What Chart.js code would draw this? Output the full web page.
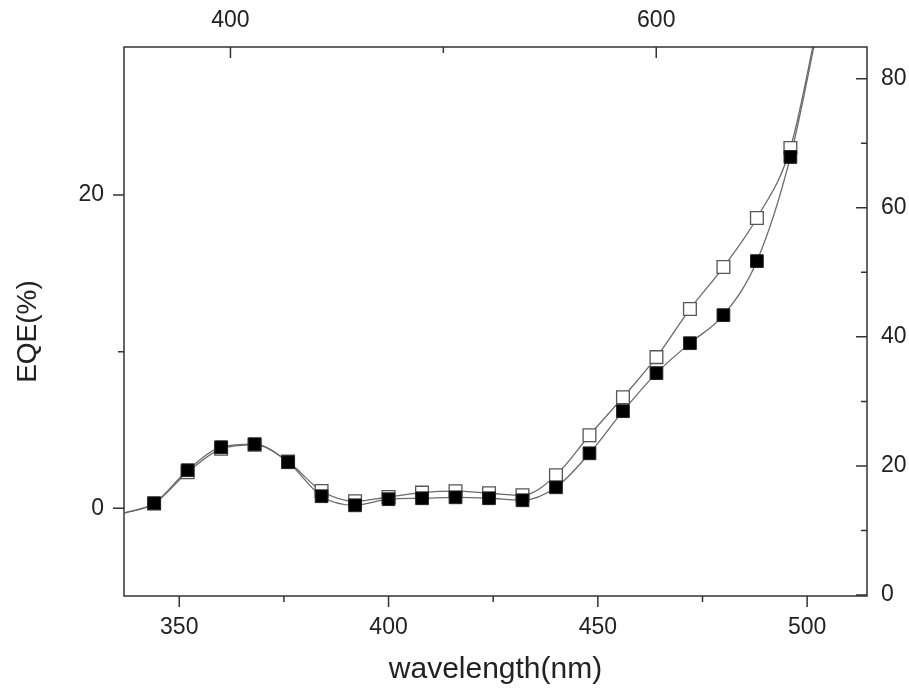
<!DOCTYPE html>
<html>
<head>
<meta charset="utf-8">
<title>EQE vs wavelength</title>
<script src="https://cdn.jsdelivr.net/npm/chart.js@4.4.1/dist/chart.umd.min.js"></script>
<style>
    html, body { margin: 0; padding: 0; background: #fff; }
    #wrap { width: 909px; height: 688px; }
</style>
</head>
<body>
<div id="wrap"><canvas id="eqeChart" width="909" height="688"></canvas></div>
<script>
/* ---------------- DATA ---------------- */
const wavelengths = [344, 352, 360, 368, 376, 384, 392, 400, 408, 416, 424, 432, 440, 448, 456, 464, 472, 480, 488, 496];
const eqeFilled   = [0.32, 2.43, 3.90, 4.09, 2.94, 0.77, 0.19, 0.58, 0.64, 0.70, 0.64, 0.51, 1.34, 3.51, 6.20, 8.63, 10.54, 12.33, 15.78, 22.43];
const eqeOpen     = [0.30, 2.30, 3.80, 4.05, 2.98, 1.10, 0.45, 0.72, 1.00, 1.09, 0.96, 0.83, 2.11, 4.66, 7.09, 9.65, 12.72, 15.40, 18.53, 23.00];

// where the fitted curves leave the frame (no markers there)
const curveEndX      = [337, 503];
const curveEndFilled = [-0.3, 31.3];
const curveEndOpen   = [-0.3, 31.6];

const bottomTicks = [350, 400, 450, 500];
const bottomMinor = [375, 425, 475];
const topTicks    = [400, 600];
const topMinor    = [500];
const leftTicks   = [0, 20];
const leftMinor   = [10];
const rightTicks  = [0, 20, 40, 60, 80];
const rightMinor  = [10, 30, 50, 70];

const yTitle = 'EQE(%)';

/* ---------------- HELPERS ---------------- */
const toPoints = (xs, ys) => xs.map((x, i) => ({ x: x, y: ys[i] }));

const curve = (ys, ends) => [
    { x: curveEndX[0], y: ends[0] },
    ...toPoints(wavelengths, ys),
    { x: curveEndX[1], y: ends[1] }
];

const fixTicks = (values) => (scale) => {
    scale.ticks = values.map(v => ({ value: v }));
};

const fontFamily = "'Liberation Sans', Arial, sans-serif";
const tickFont = { family: fontFamily, size: 23 };
const textColor = '#222';
const noGrid = { display: false, drawTicks: false };

/* ---------------- FRAME + TICK MARKS + Y TITLE ---------------- */
const frameTicks = {
    id: 'frameTicks',
    afterDatasetsDraw(chart) {
        const { ctx, chartArea: a, scales } = chart;
        ctx.save();
        ctx.strokeStyle = '#333';
        ctx.lineWidth = 1.5;
        ctx.strokeRect(a.left, a.top, a.right - a.left, a.bottom - a.top);

        const major = 11, minor = 6;
        ctx.beginPath();
        // bottom: outward
        bottomTicks.forEach(v => { const p = scales.x.getPixelForValue(v); ctx.moveTo(p, a.bottom); ctx.lineTo(p, a.bottom + major); });
        bottomMinor.forEach(v => { const p = scales.x.getPixelForValue(v); ctx.moveTo(p, a.bottom); ctx.lineTo(p, a.bottom + minor); });
        // top: inward
        topTicks.forEach(v => { const p = scales.x2.getPixelForValue(v); ctx.moveTo(p, a.top); ctx.lineTo(p, a.top + major); });
        topMinor.forEach(v => { const p = scales.x2.getPixelForValue(v); ctx.moveTo(p, a.top); ctx.lineTo(p, a.top + minor); });
        // left: outward
        leftTicks.forEach(v => { const p = scales.y.getPixelForValue(v); ctx.moveTo(a.left, p); ctx.lineTo(a.left - major, p); });
        leftMinor.forEach(v => { const p = scales.y.getPixelForValue(v); ctx.moveTo(a.left, p); ctx.lineTo(a.left - minor, p); });
        // right: inward
        rightTicks.forEach(v => { const p = scales.y2.getPixelForValue(v); ctx.moveTo(a.right, p); ctx.lineTo(a.right - major, p); });
        rightMinor.forEach(v => { const p = scales.y2.getPixelForValue(v); ctx.moveTo(a.right, p); ctx.lineTo(a.right - minor, p); });
        ctx.stroke();

        // left axis title, sits a bit below the axis middle in the original
        ctx.translate(28, (a.top + a.bottom) / 2 + 10);
        ctx.rotate(-Math.PI / 2);
        ctx.font = '28px ' + fontFamily;
        ctx.fillStyle = textColor;
        ctx.textAlign = 'center';
        ctx.textBaseline = 'middle';
        ctx.fillText(yTitle, 0, 0);
        ctx.restore();
    }
};

/* ---------------- CHART ---------------- */
new Chart(document.getElementById('eqeChart'), {
    type: 'line',
    data: {
        datasets: [
            {
                label: 'filled',
                data: toPoints(wavelengths, eqeFilled),
                showLine: false,
                pointStyle: 'rect',
                pointRadius: 9,
                backgroundColor: '#000',
                borderColor: '#222',
                borderWidth: 1
            },
            {
                label: 'open',
                data: toPoints(wavelengths, eqeOpen),
                showLine: false,
                pointStyle: 'rect',
                pointRadius: 9,
                backgroundColor: '#fff',
                borderColor: '#555',
                borderWidth: 1.3
            },
            {
                label: 'filled fit',
                data: curve(eqeFilled, curveEndFilled),
                borderColor: '#6a6a6a',
                borderWidth: 1.3,
                pointRadius: 0,
                cubicInterpolationMode: 'monotone',
                fill: false
            },
            {
                label: 'open fit',
                data: curve(eqeOpen, curveEndOpen),
                borderColor: '#6a6a6a',
                borderWidth: 1.3,
                pointRadius: 0,
                cubicInterpolationMode: 'monotone',
                fill: false
            }
        ]
    },
    options: {
        responsive: false,
        animation: false,
        layout: { padding: 0 },
        plugins: {
            legend: { display: false },
            tooltip: { enabled: false }
        },
        scales: {
            x: {
                type: 'linear',
                position: 'bottom',
                min: 336.8,
                max: 514.3,
                afterBuildTicks: fixTicks(bottomTicks),
                afterFit: (s) => { s.height = 92; },
                grid: noGrid,
                border: { display: false },
                ticks: { font: tickFont, color: textColor, padding: 18, maxRotation: 0 },
                title: {
                    display: true,
                    text: 'wavelength(nm)',
                    font: { family: fontFamily, size: 30 },
                    color: textColor,
                    padding: { top: 0, bottom: 0 }
                }
            },
            x2: {
                type: 'linear',
                position: 'top',
                min: 350,
                max: 699,
                afterBuildTicks: fixTicks(topTicks),
                afterFit: (s) => { s.height = 47; },
                grid: noGrid,
                border: { display: false },
                ticks: { font: tickFont, color: textColor, padding: 13, maxRotation: 0 }
            },
            y: {
                type: 'linear',
                position: 'left',
                min: -5.6,
                max: 29.45,
                afterBuildTicks: fixTicks(leftTicks),
                afterFit: (s) => { s.width = 124; },
                grid: noGrid,
                border: { display: false },
                ticks: { font: tickFont, color: textColor, padding: 20 }
            },
            y2: {
                type: 'linear',
                position: 'right',
                min: -0.15,
                max: 84.9,
                afterBuildTicks: fixTicks(rightTicks),
                afterFit: (s) => { s.width = 42; },
                grid: noGrid,
                border: { display: false },
                ticks: { font: tickFont, color: textColor, padding: 14 }
            }
        }
    },
    plugins: [frameTicks]
});
</script>
</body>
</html>
